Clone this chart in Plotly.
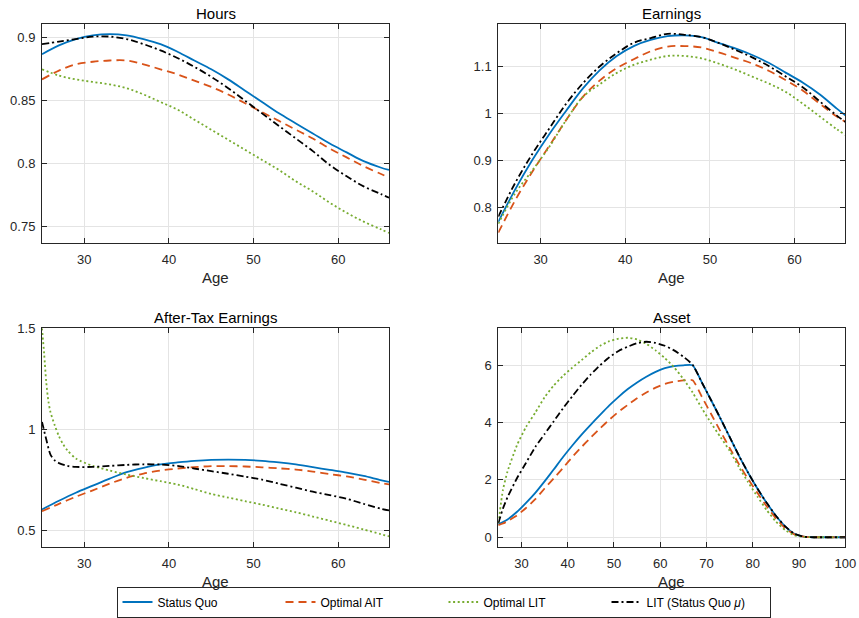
import plotly.graph_objects as go

# ---------------- data ----------------
AGE_WORK = [25, 27, 29, 31, 33, 35, 37, 39, 41, 43, 45, 47, 49, 51, 53, 55, 57, 59, 61, 63, 65, 66]

HOURS_SQ = [0.887, 0.894, 0.899, 0.902, 0.903, 0.902, 0.899, 0.895, 0.889, 0.882, 0.875, 0.867, 0.858, 0.849, 0.840, 0.832, 0.824, 0.816, 0.809, 0.802, 0.797, 0.795]
HOURS_AIT = [0.867, 0.874, 0.879, 0.881, 0.882, 0.882, 0.879, 0.875, 0.871, 0.866, 0.861, 0.855, 0.848, 0.841, 0.834, 0.827, 0.820, 0.812, 0.805, 0.798, 0.792, 0.789]
HOURS_LIT = [0.875, 0.870, 0.867, 0.865, 0.863, 0.860, 0.855, 0.849, 0.843, 0.835, 0.827, 0.819, 0.811, 0.803, 0.795, 0.786, 0.778, 0.769, 0.761, 0.754, 0.748, 0.745]
HOURS_LITSQ = [0.895, 0.897, 0.899, 0.901, 0.901, 0.899, 0.895, 0.890, 0.884, 0.877, 0.869, 0.860, 0.850, 0.840, 0.830, 0.820, 0.810, 0.799, 0.790, 0.782, 0.776, 0.773]

EARN_SQ = [0.769, 0.838, 0.900, 0.955, 1.005, 1.053, 1.092, 1.122, 1.143, 1.156, 1.164, 1.166, 1.162, 1.150, 1.138, 1.124, 1.107, 1.086, 1.065, 1.040, 1.010, 0.996]
EARN_AIT = [0.746, 0.815, 0.875, 0.930, 0.985, 1.035, 1.070, 1.096, 1.115, 1.132, 1.142, 1.143, 1.140, 1.130, 1.118, 1.106, 1.090, 1.070, 1.048, 1.020, 0.993, 0.982]
EARN_LIT = [0.765, 0.830, 0.878, 0.928, 0.985, 1.035, 1.062, 1.086, 1.103, 1.114, 1.122, 1.122, 1.117, 1.106, 1.093, 1.078, 1.063, 1.045, 1.020, 0.993, 0.966, 0.954]
EARN_LITSQ = [0.780, 0.852, 0.913, 0.967, 1.020, 1.064, 1.100, 1.128, 1.150, 1.160, 1.169, 1.167, 1.162, 1.150, 1.135, 1.119, 1.100, 1.078, 1.055, 1.025, 0.995, 0.982]

AT_SQ = [0.602, 0.645, 0.685, 0.720, 0.755, 0.787, 0.808, 0.825, 0.835, 0.843, 0.848, 0.849, 0.848, 0.843, 0.835, 0.825, 0.812, 0.798, 0.785, 0.768, 0.748, 0.739]
AT_AIT = [0.593, 0.630, 0.665, 0.697, 0.730, 0.759, 0.780, 0.795, 0.805, 0.812, 0.817, 0.817, 0.815, 0.811, 0.806, 0.800, 0.790, 0.777, 0.766, 0.750, 0.733, 0.726]
AGE_AT_LIT = [25, 25.25, 25.5, 25.75, 26, 26.5, 27, 27.5, 28, 29, 31, 33, 35, 37, 39, 41, 43, 45, 47, 49, 51, 53, 55, 57, 59, 61, 63, 65, 66]
AT_LIT = [1.50, 1.375, 1.235, 1.14, 1.085, 1.02, 0.965, 0.925, 0.895, 0.855, 0.818, 0.795, 0.775, 0.758, 0.742, 0.726, 0.703, 0.679, 0.661, 0.643, 0.626, 0.607, 0.588, 0.567, 0.546, 0.525, 0.503, 0.480, 0.469]
AGE_AT_LITSQ = [25, 25.5, 26, 26.5, 27, 28, 29, 31, 33, 35, 37, 39, 41, 43, 45, 47, 49, 51, 53, 55, 57, 59, 61, 63, 65, 66]
AT_LITSQ = [1.036, 0.950, 0.874, 0.845, 0.832, 0.818, 0.813, 0.813, 0.818, 0.823, 0.826, 0.825, 0.818, 0.805, 0.792, 0.779, 0.765, 0.750, 0.730, 0.710, 0.690, 0.673, 0.655, 0.630, 0.606, 0.597]

AGE_LIFE = [25, 26, 27, 29, 31, 33, 35, 37, 39, 41, 43, 45, 47, 49, 51, 53, 55, 57, 59, 61, 63, 65, 67,
            69, 71, 73, 75, 77, 79, 81, 83, 85, 87, 89, 91, 93, 95, 100]
ASSET_SQ = [0.45, 0.53, 0.62, 0.88, 1.20, 1.55, 1.95, 2.37, 2.80, 3.20, 3.58, 3.93, 4.27, 4.60, 4.90, 5.17, 5.40, 5.60, 5.77, 5.90, 5.97, 6.00, 6.00,
            5.40, 4.78, 4.15, 3.50, 2.85, 2.25, 1.70, 1.20, 0.75, 0.38, 0.12, 0.02, 0.0, 0.0, 0.0]
ASSET_AIT = [0.42, 0.48, 0.56, 0.76, 1.02, 1.33, 1.70, 2.06, 2.42, 2.80, 3.15, 3.48, 3.80, 4.10, 4.38, 4.62, 4.85, 5.05, 5.22, 5.35, 5.43, 5.47, 5.48,
             4.90, 4.30, 3.70, 3.12, 2.55, 2.03, 1.55, 1.08, 0.66, 0.32, 0.10, 0.02, 0.0, 0.0, 0.0]
ASSET_LIT = [0.49, 1.65, 2.30, 3.20, 3.85, 4.35, 4.88, 5.30, 5.63, 5.92, 6.18, 6.45, 6.68, 6.84, 6.93, 6.96, 6.90, 6.75, 6.52, 6.25, 5.93, 5.52, 5.05,
             4.50, 3.98, 3.50, 3.02, 2.45, 1.92, 1.42, 0.95, 0.55, 0.25, 0.07, 0.01, 0.0, 0.0, 0.0]
ASSET_LITSQ = [0.49, 1.00, 1.40, 2.05, 2.60, 3.15, 3.60, 4.05, 4.50, 4.92, 5.32, 5.68, 6.00, 6.28, 6.50, 6.65, 6.77, 6.82, 6.78, 6.68, 6.52, 6.30, 6.02,
               5.40, 4.78, 4.15, 3.50, 2.85, 2.25, 1.70, 1.20, 0.75, 0.38, 0.12, 0.02, 0.0, 0.0, 0.0]

SERIES_NAMES = ["Status Quo", "Optimal AIT", "Optimal LIT", "LIT (Status Quo <i>μ</i>)"]
PANEL_TITLES = ["Hours", "Earnings", "After-Tax Earnings", "Asset"]
X_TICKS_WORK = [30, 40, 50, 60]
X_TICKS_LIFE = [30, 40, 50, 60, 70, 80, 90, 100]
Y_TICKS_HOURS = [0.75, 0.8, 0.85, 0.9]
Y_LABELS_HOURS = ["0.75", "0.8", "0.85", "0.9"]
Y_TICKS_EARN = [0.8, 0.9, 1.0, 1.1]
Y_LABELS_EARN = ["0.8", "0.9", "1", "1.1"]
Y_TICKS_AT = [0.5, 1.0, 1.5]
Y_LABELS_AT = ["0.5", "1", "1.5"]
Y_TICKS_ASSET = [0, 2, 4, 6]
Y_LABELS_ASSET = ["0", "2", "4", "6"]

# ---------------- styles ----------------
COLORS = ["#0072BD", "#D95319", "#77AC30", "#000000"]
DASHES = ["solid", "8px,5px", "2px,2.6px", "7px,3px,2px,3px"]
WIDTHS = [1.8, 1.8, 1.8, 1.8]
FONT = "Liberation Sans, Arial, Helvetica, sans-serif"
W, H = 859, 618

panels = [
    dict(ax="", xs=[AGE_WORK, AGE_WORK, AGE_WORK, AGE_WORK],
         ys=[HOURS_SQ, HOURS_AIT, HOURS_LIT, HOURS_LITSQ], sm=1.0,
         xr=[25, 66], yr=[0.737, 0.911], xt=X_TICKS_WORK, yt=Y_TICKS_HOURS, yl=Y_LABELS_HOURS,
         px=(42, 389), py=(24, 243)),
    dict(ax="2", xs=[AGE_WORK, AGE_WORK, AGE_WORK, AGE_WORK],
         ys=[EARN_SQ, EARN_AIT, EARN_LIT, EARN_LITSQ], sm=1.0,
         xr=[25, 66], yr=[0.724, 1.19], xt=X_TICKS_WORK, yt=Y_TICKS_EARN, yl=Y_LABELS_EARN,
         px=(498.3, 845.3), py=(24, 243)),
    dict(ax="3", xs=[AGE_WORK, AGE_WORK, AGE_AT_LIT, AGE_AT_LITSQ],
         ys=[AT_SQ, AT_AIT, AT_LIT, AT_LITSQ], sm=0.8,
         xr=[25, 66], yr=[0.416, 1.5], xt=X_TICKS_WORK, yt=Y_TICKS_AT, yl=Y_LABELS_AT,
         px=(42, 389), py=(328.3, 547)),
    dict(ax="4", xs=[AGE_LIFE, AGE_LIFE, AGE_LIFE, AGE_LIFE],
         ys=[ASSET_SQ, ASSET_AIT, ASSET_LIT, ASSET_LITSQ], sm=0.5,
         xr=[25, 100], yr=[-0.34, 7.29], xt=X_TICKS_LIFE, yt=Y_TICKS_ASSET, yl=Y_LABELS_ASSET,
         px=(498.3, 845.3), py=(328.3, 547)),
]

fig = go.Figure()
layout = dict(width=W, height=H, margin=dict(l=0, r=0, t=0, b=0, pad=0, autoexpand=False),
              paper_bgcolor="white", plot_bgcolor="white",
              font=dict(family=FONT, color="#262626"))
annotations = []

for pi, p in enumerate(panels):
    for si in range(4):
        fig.add_trace(go.Scatter(
            x=p["xs"][si], y=p["ys"][si], mode="lines",
            name=SERIES_NAMES[si], legendgroup=SERIES_NAMES[si], showlegend=(pi == 0),
            line=dict(color=COLORS[si], width=WIDTHS[si], dash=DASHES[si], shape="spline", smoothing=p["sm"]),
            xaxis="x" + p["ax"], yaxis="y" + p["ax"], hoverinfo="skip"))
    xd = [p["px"][0] / W, p["px"][1] / W]
    yd = [1 - p["py"][1] / H, 1 - p["py"][0] / H]
    common = dict(showgrid=True, gridcolor="#e4e4e4", gridwidth=1, zeroline=False,
                  showline=True, linecolor="#262626", linewidth=1, mirror="allticks",
                  ticks="inside", ticklen=5, tickwidth=1, tickcolor="#262626",
                  tickfont=dict(family=FONT, size=13, color="#262626"), automargin=False)
    layout["xaxis" + p["ax"]] = dict(domain=xd, range=p["xr"], tickvals=p["xt"],
                                     anchor="y" + p["ax"], ticklabelstandoff=4, **common)
    layout["yaxis" + p["ax"]] = dict(domain=yd, range=p["yr"], tickvals=p["yt"], ticktext=p["yl"],
                                     anchor="x" + p["ax"], ticklabelstandoff=3, **common)
    cx = (xd[0] + xd[1]) / 2
    annotations.append(dict(text=PANEL_TITLES[pi], x=cx, y=1 - (p["py"][0] - 11) / H,
                            xref="paper", yref="paper", xanchor="center", yanchor="middle",
                            showarrow=False, font=dict(family=FONT, size=15, color="#000000")))
    annotations.append(dict(text="Age", x=cx, y=1 - (p["py"][1] + 34.5) / H,
                            xref="paper", yref="paper", xanchor="center", yanchor="middle",
                            showarrow=False, font=dict(family=FONT, size=15, color="#262626")))

layout["annotations"] = annotations
layout["legend"] = dict(orientation="h", x=443.5 / W, xanchor="center", y=0.5 / H, yanchor="bottom",
                        bordercolor="#262626", borderwidth=1, bgcolor="white",
                        font=dict(family=FONT, size=12, color="#000000"),
                        entrywidth=118, entrywidthmode="pixels", traceorder="normal")
fig.update_layout(**layout)
fig.write_html("out.html")
